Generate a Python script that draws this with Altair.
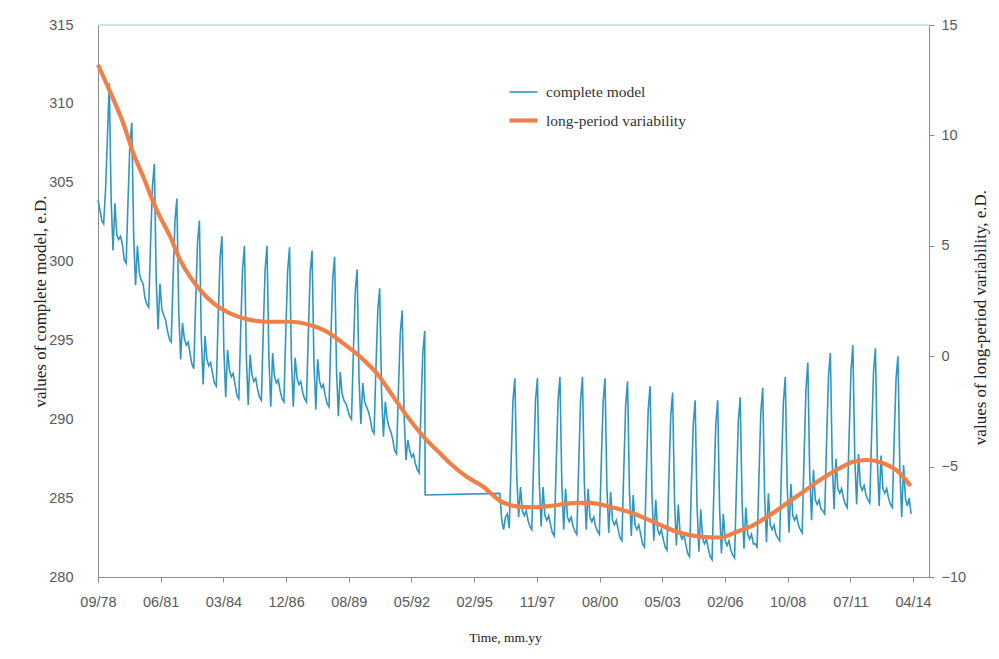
import altair as alt
import pandas as pd

# ---------------- data ----------------
TICK_LABELS = ["09/78", "06/81", "03/84", "12/86", "08/89", "05/92", "02/95",
               "11/97", "08/00", "05/03", "02/06", "10/08", "07/11", "04/14"]
TICK_STEP_MONTHS = 33          # spacing of the time-axis labels (months)
X_MAX_MONTHS = 437.4           # right end of the time axis (months after 09/78)
SAMPLE_STEP = 0.9884           # months between successive model samples

# complete model (left axis) - samples before the data gap
BLUE_START = [303.9, 303.3, 302.6, 302.4, 304.5, 307.8]
BLUE_CYCLES_PRE = [
    [311.3, 303.9, 300.7, 303.7, 301.7, 301.4, 301.6, 301.1, 300.1, 299.9, 303.9, 307.5],
    [308.8, 301.6, 298.5, 301.0, 299.3, 298.8, 298.6, 297.7, 297.3, 297.1, 301.2, 304.8],
    [306.2, 298.9, 295.7, 298.6, 297.0, 296.6, 296.3, 295.6, 295.1, 294.9, 299.0, 302.6],
    [304.0, 296.9, 293.8, 296.1, 295.1, 294.7, 294.9, 294.2, 293.5, 293.2, 297.4, 301.2],
    [302.6, 295.3, 292.2, 295.3, 293.8, 293.4, 293.6, 292.9, 292.3, 292.1, 296.4, 300.2],
    [301.6, 294.5, 291.4, 294.4, 293.1, 292.7, 292.9, 292.2, 291.5, 291.3, 295.7, 299.6],
    [301.0, 293.9, 290.9, 294.1, 292.8, 292.4, 292.6, 291.9, 291.4, 291.2, 295.6, 299.5],
    [301.0, 293.9, 290.8, 294.2, 292.7, 292.3, 292.5, 291.8, 291.3, 291.1, 295.5, 299.4],
    [300.9, 293.8, 290.8, 293.9, 292.6, 292.2, 292.4, 291.7, 291.3, 291.1, 295.4, 299.3],
    [300.7, 293.6, 290.6, 293.8, 292.4, 292.0, 292.2, 291.5, 291.0, 290.8, 295.1, 298.9],
    [300.3, 293.2, 290.2, 293.0, 291.6, 291.2, 291.0, 290.6, 290.2, 290.0, 294.3, 298.1],
    [299.5, 292.6, 289.7, 292.3, 291.1, 290.8, 290.5, 290.0, 289.3, 289.1, 293.2, 296.9],
    [298.3, 291.7, 288.9, 291.1, 290.0, 289.5, 289.2, 288.7, 288.0, 287.8, 291.9, 295.5],
    [296.9, 290.3, 287.4, 288.7, 288.0, 287.6, 287.8, 287.2, 286.8, 286.6, 290.7, 294.3],
]
BLUE_LAST_PEAK_PRE = [295.6]

# flat stretch across the gap: (sample index, value)
GAP_INDEX = [174.2, 214.0]
GAP_VALUE = [285.2, 285.3]

# complete model after the gap
BLUE_POST_LEAD = [283.6, 283.0, 283.8, 284.0, 283.1, 287.3, 291.2]
BLUE_CYCLES_POST = [
    [292.6, 286.4, 283.8, 285.7, 284.2, 283.9, 284.2, 283.6, 283.2, 283.0, 287.3, 291.2],
    [292.6, 286.0, 283.2, 285.7, 283.9, 283.6, 283.9, 283.3, 282.8, 282.6, 287.1, 291.2],
    [292.7, 285.9, 283.0, 285.6, 283.8, 283.5, 283.8, 283.2, 282.9, 282.7, 287.2, 291.2],
    [292.7, 285.9, 283.0, 285.6, 283.8, 283.5, 283.8, 283.2, 282.9, 282.7, 287.2, 291.1],
    [292.6, 285.7, 282.8, 285.4, 283.6, 283.3, 283.6, 283.0, 282.5, 282.3, 286.8, 290.9],
    [292.4, 285.5, 282.6, 285.2, 283.3, 283.0, 283.3, 282.7, 282.1, 281.9, 286.5, 290.6],
    [292.1, 285.2, 282.3, 284.9, 283.0, 282.7, 283.0, 282.4, 281.9, 281.7, 286.2, 290.2],
    [291.7, 284.9, 282.0, 284.6, 282.7, 282.4, 282.7, 282.1, 281.5, 281.3, 285.8, 289.7],
    [291.2, 284.5, 281.6, 284.3, 282.4, 282.1, 282.4, 281.8, 281.3, 281.1, 285.6, 289.7],
    [291.2, 284.4, 281.5, 284.0, 282.3, 282.0, 282.3, 281.7, 281.4, 281.2, 285.8, 289.9],
    [291.4, 284.7, 281.8, 284.4, 282.7, 282.4, 282.7, 282.1, 282.1, 281.9, 286.4, 290.5],
    [292.0, 285.1, 282.2, 285.3, 283.3, 283.0, 283.3, 282.7, 282.5, 282.3, 287.0, 291.1],
    [292.7, 285.8, 282.8, 285.9, 283.9, 283.6, 283.9, 283.3, 283.0, 282.8, 287.6, 291.9],
    [293.6, 286.6, 283.6, 286.8, 284.9, 284.6, 284.9, 284.3, 284.2, 284.0, 288.6, 292.7],
    [294.2, 287.3, 284.3, 287.5, 285.6, 285.3, 285.6, 285.0, 284.6, 284.4, 289.0, 293.1],
    [294.7, 287.6, 284.6, 287.8, 285.8, 285.5, 285.8, 285.2, 284.9, 284.7, 289.1, 293.0],
    [294.5, 287.5, 284.5, 287.7, 285.6, 285.3, 285.6, 285.0, 284.6, 284.4, 288.8, 292.6],
]
BLUE_END = [294.0, 286.9, 283.8, 287.1, 285.0, 284.5, 285.0, 284.0]

# long-period variability (right axis)
ORANGE_MONTH = [0, 6.3, 13.3, 18.6, 23.8, 30.9, 38.0, 43.2, 48.4, 53.7, 60.7, 69.5,
                76.5, 88.8, 101.1, 111.6, 120.4, 129.1, 137.9, 146.7, 155.4, 164.2,
                173.0, 180.0, 185.3, 194.1, 202.8, 211.6, 216.8, 222.1, 229.1, 237.9,
                251.9, 259.0, 269.5, 281.7, 294.1, 304.6, 316.8, 327.4, 336.2, 344.9,
                353.7, 362.5, 371.2, 380.0, 388.8, 397.5, 404.6, 413.3, 422.1, 427.7]
ORANGE_VALUE = [13.2, 11.98, 10.55, 9.19, 8.13, 6.62, 5.41, 4.36, 3.60, 3.0, 2.40, 1.94,
                1.72, 1.56, 1.56, 1.41, 1.11, 0.58, -0.02, -0.77, -1.83, -2.89,
                -3.80, -4.40, -4.85, -5.46, -5.91, -6.55, -6.74, -6.82, -6.84, -6.78,
                -6.64, -6.64, -6.82, -7.12, -7.57, -7.95, -8.17, -8.21, -7.95, -7.65,
                -7.19, -6.66, -6.14, -5.61, -5.15, -4.78, -4.70, -4.85, -5.30, -5.88]

SERIES = ["complete model", "long-period variability"]
COLORS = ["#2f97bf", "#f07f48"]
WIDTHS = [1.6, 4.2]

# ---------------- build tables ----------------
rows = []
pre = BLUE_START + [v for c in BLUE_CYCLES_PRE for v in c] + BLUE_LAST_PEAK_PRE
for i, v in enumerate(pre):
    rows.append((i, v))
for i, v in zip(GAP_INDEX, GAP_VALUE):
    rows.append((i, v))
post = BLUE_POST_LEAD + [v for c in BLUE_CYCLES_POST for v in c] + BLUE_END
start_post = int(GAP_INDEX[1]) + 1
for j, v in enumerate(post):
    rows.append((start_post + j, v))
blue_df = pd.DataFrame({"month": [r[0] * SAMPLE_STEP for r in rows],
                        "value": [r[1] for r in rows],
                        "series": SERIES[0]})
orange_df = pd.DataFrame({"month": ORANGE_MONTH, "value": ORANGE_VALUE,
                          "series": SERIES[1]})

PLOT_W, PLOT_H = 831, 552
tick_vals = [i * TICK_STEP_MONTHS for i in range(len(TICK_LABELS))]
label_expr = "[" + ",".join("'%s'" % t for t in TICK_LABELS) + "][round(datum.value/%d)]" % TICK_STEP_MONTHS

TICK_FONT = "Liberation Sans"
SERIF = "Liberation Serif"

x_enc = alt.X("month:Q",
              scale=alt.Scale(domain=[0, X_MAX_MONTHS], nice=False, zero=False),
              axis=alt.Axis(values=tick_vals, labelExpr=label_expr, title="Time, mm.yy",
                            tickSize=5, labelPadding=13, labelFlush=False,
                            labelFont=TICK_FONT, labelFontSize=14.5, labelColor="#595959",
                            titleFont=SERIF, titleFontSize=13.5, titleFontWeight="normal",
                            titleColor="#222", titleX=407, titleY=60,
                            titleAlign="center", titleBaseline="middle"))

legend = alt.Legend(orient="none", legendX=409, legendY=52, title=None,
                    symbolType="stroke", symbolSize=784, labelFont=SERIF,
                    labelFontSize=15.5, labelColor="#333", rowPadding=3, padding=0,
                    labelOffset=6)
color_enc = alt.Color("series:N", scale=alt.Scale(domain=SERIES, range=COLORS), legend=legend)
width_enc = alt.StrokeWidth("series:N", scale=alt.Scale(domain=SERIES, range=WIDTHS), legend=legend)

blue = alt.Chart(blue_df).mark_line(interpolate="linear").encode(
    x=x_enc,
    y=alt.Y("value:Q", scale=alt.Scale(domain=[280, 315], nice=False, zero=False),
            axis=alt.Axis(values=list(range(280, 316, 5)), title="values of complete model, e.D.",
                          tickSize=0, labelPadding=25, labelFont=TICK_FONT, labelFontSize=14.5,
                          labelColor="#595959", titleFont=SERIF, titleFontSize=17,
                          titleFontWeight="normal", titleColor="#222", titleX=-58,
                          titleY=276, titleAngle=270, titleAlign="center",
                          titleBaseline="middle")),
    color=color_enc,
    strokeWidth=width_enc,
    order="month:Q",
)

orange = alt.Chart(orange_df).mark_line(interpolate="monotone").encode(
    x=x_enc,
    y=alt.Y("value:Q", scale=alt.Scale(domain=[-10, 15], nice=False, zero=False),
            axis=alt.Axis(orient="right", values=list(range(-10, 16, 5)),
                          title="values of long-period variability, e.D.",
                          tickSize=5, labelPadding=7, labelFont=TICK_FONT, labelFontSize=14.5,
                          labelColor="#595959", titleFont=SERIF, titleFontSize=17,
                          titleFontWeight="normal", titleColor="#222", titleX=51,
                          titleY=292, titleAngle=270, titleAlign="center",
                          titleBaseline="middle")),
    color=color_enc,
    strokeWidth=width_enc,
)

top = alt.Chart(pd.DataFrame({"k": [0]})).mark_rule(color="#9cc6d4", strokeWidth=1).encode(
    x=alt.value(0), x2=alt.value(PLOT_W), y=alt.value(0))

chart = alt.layer(blue, orange, top).resolve_scale(y="independent").properties(
    width=PLOT_W, height=PLOT_H,
    autosize=alt.AutoSizeParams(type="none"),
    padding={"left": 90, "top": 17, "right": 62, "bottom": 75},
).configure_view(stroke=None).configure_axis(
    grid=False, domainColor="#8c8c8c", tickColor="#8c8c8c", domainWidth=1
)

chart.save("out.html", embed_options={"renderer": "svg", "actions": False})
